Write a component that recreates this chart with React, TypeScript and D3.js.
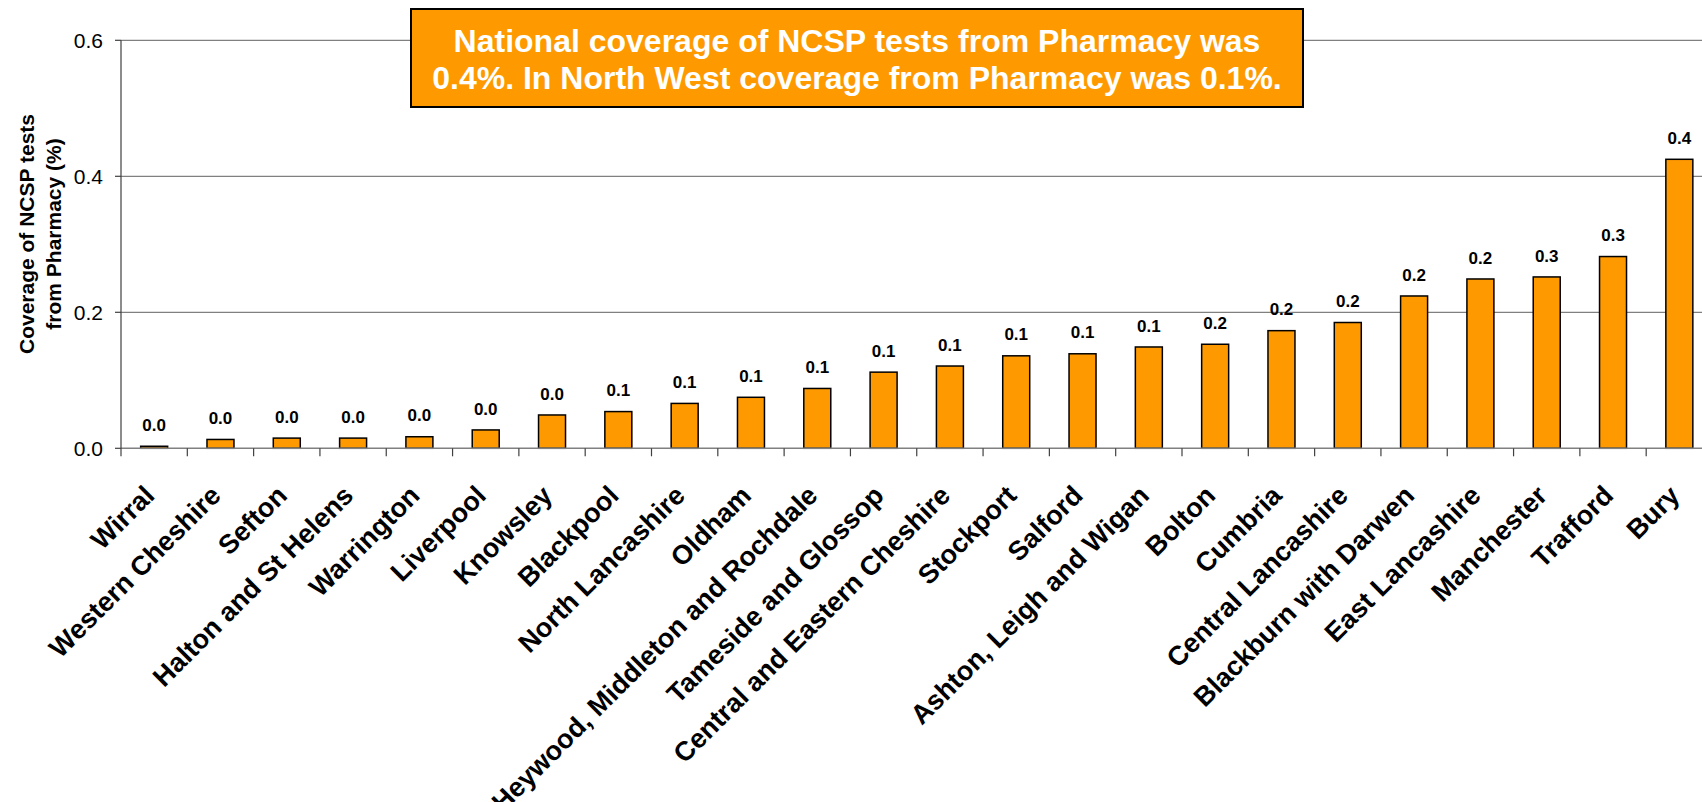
import React from "react";
import * as d3 from "d3";

const categories: string[] = [
  "Wirral",
  "Western Cheshire",
  "Sefton",
  "Halton and St Helens",
  "Warrington",
  "Liverpool",
  "Knowsley",
  "Blackpool",
  "North Lancashire",
  "Oldham",
  "Heywood, Middleton and Rochdale",
  "Tameside and Glossop",
  "Central and Eastern Cheshire",
  "Stockport",
  "Salford",
  "Ashton, Leigh and Wigan",
  "Bolton",
  "Cumbria",
  "Central Lancashire",
  "Blackburn with Darwen",
  "East Lancashire",
  "Manchester",
  "Trafford",
  "Bury",
];

const coverage: number[] = [
  0.003, 0.013, 0.015, 0.015, 0.017, 0.027, 0.049, 0.054, 0.066, 0.075, 0.088,
  0.112, 0.121, 0.136, 0.139, 0.149, 0.153, 0.173, 0.185, 0.224, 0.249, 0.252,
  0.282, 0.425,
];

const yTicks: number[] = [0, 0.2, 0.4, 0.6];

const yTitleLines: string[] = ["Coverage of NCSP tests", "from Pharmacy (%)"];

const noteLines: string[] = [
  "National coverage of NCSP tests from Pharmacy was",
  "0.4%. In North West coverage from Pharmacy was 0.1%.",
];

const W = 1702;
const H = 802;
const FONT = "'Liberation Sans', Arial, Helvetica, sans-serif";
const ORANGE = "#FF9900";

export default function App() {
  const plotLeft = 121;
  const plotRight = 1712.5;
  const plotTop = 40.3;
  const plotBottom = 448.3;

  const x = d3
    .scaleBand<string>()
    .domain(categories)
    .range([plotLeft, plotRight])
    .paddingInner(0.593)
    .paddingOuter(0.2965);
  const step = x.step();
  const y = d3.scaleLinear().domain([0, 0.6]).range([plotBottom, plotTop]);
  const fmt = d3.format(".1f");

  const data = categories.map((c, i) => ({ c, v: coverage[i] }));

  return (
    <svg
      width={W}
      height={H}
      style={{ position: "absolute", left: 0, top: 0, background: "#fff" }}
      fontFamily={FONT}
    >
      {/* gridlines */}
      {yTicks
        .filter((t) => t > 0)
        .map((t) => (
          <line
            key={"g" + t}
            x1={plotLeft}
            x2={W}
            y1={y(t)}
            y2={y(t)}
            stroke="#808080"
            strokeWidth={1.2}
          />
        ))}

      {/* bars */}
      {data.map((d) => (
        <rect
          key={d.c}
          x={x(d.c)!}
          y={y(d.v)}
          width={x.bandwidth()}
          height={plotBottom - y(d.v)}
          fill={ORANGE}
          stroke="#000"
          strokeWidth={1.5}
        />
      ))}

      {/* x axis */}
      <line x1={plotLeft} x2={W} y1={plotBottom} y2={plotBottom} stroke="#808080" strokeWidth={1.5} />
      {categories.map((c, i) => (
        <line
          key={"xt" + i}
          x1={plotLeft + step * (i + 1)}
          x2={plotLeft + step * (i + 1)}
          y1={plotBottom}
          y2={plotBottom + 8}
          stroke="#404040"
          strokeWidth={1.2}
        />
      ))}

      {/* y axis */}
      <line x1={plotLeft} x2={plotLeft} y1={plotTop} y2={plotBottom + 8} stroke="#404040" strokeWidth={1.2} />
      {yTicks.map((t) => (
        <g key={"yt" + t}>
          <line x1={plotLeft - 6} x2={plotLeft} y1={y(t)} y2={y(t)} stroke="#404040" strokeWidth={1.2} />
          <text
            x={103}
            y={y(t)}
            dy="0.36em"
            textAnchor="end"
            fontSize={21}
            fill="#000"
          >
            {fmt(t)}
          </text>
        </g>
      ))}

      {/* data labels */}
      {data.map((d) => (
        <text
          key={"l" + d.c}
          x={x(d.c)! + x.bandwidth() / 2}
          y={y(d.v) - 15.4}
          textAnchor="middle"
          fontSize={17}
          fontWeight="bold"
          fill="#000"
        >
          {fmt(d.v)}
        </text>
      ))}

      {/* category labels */}
      {categories.map((c) => {
        const cx = x(c)! + x.bandwidth() / 2 - 5;
        const cy = plotBottom + 42;
        return (
          <text
            key={"c" + c}
            transform={`translate(${cx},${cy}) rotate(-45)`}
            textAnchor="end"
            dy="0.36em"
            fontSize={27}
            fontWeight="bold"
            fill="#000"
          >
            {c}
          </text>
        );
      })}

      {/* y title */}
      {yTitleLines.map((line, i) => (
        <text
          key={"yt-l" + i}
          transform={`translate(${33.5 + i * 27.5},234) rotate(-90)`}
          textAnchor="middle"
          fontSize={21}
          fontWeight="bold"
          fill="#000"
        >
          {line}
        </text>
      ))}

      {/* annotation box */}
      <rect x={411} y={9} width={892} height={98} fill={ORANGE} stroke="#000" strokeWidth={2} />
      {noteLines.map((line, i) => (
        <text
          key={"n" + i}
          x={857}
          y={51.7 + i * 37.6}
          textAnchor="middle"
          fontSize={32}
          fontWeight="bold"
          fill="#fff"
        >
          {line}
        </text>
      ))}
    </svg>
  );
}
